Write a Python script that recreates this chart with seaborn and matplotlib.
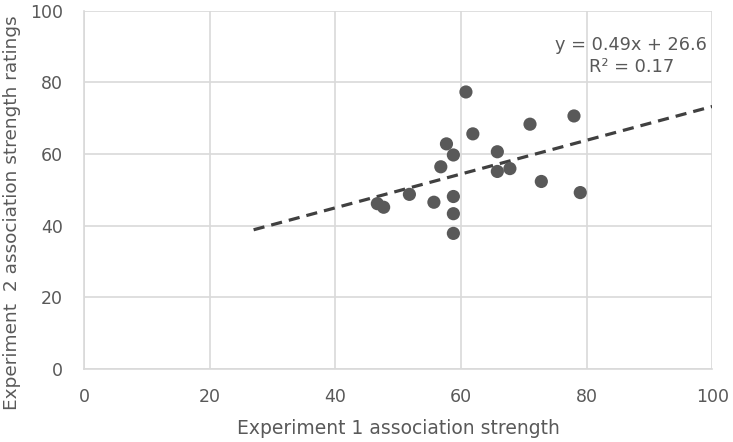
import numpy as np
import pandas as pd
import seaborn as sns
import matplotlib.pyplot as plt

# values
exp1_strength = [60.8, 61.9, 57.7, 58.8, 56.8, 65.8, 65.8, 67.8, 71.0, 78.0,
                 72.8, 79.0, 51.8, 55.7, 58.8, 58.8, 58.8, 46.7, 47.7]
exp2_ratings = [77.3, 65.6, 62.8, 59.7, 56.4, 60.6, 55.1, 55.9, 68.3, 70.6,
                52.3, 49.2, 48.7, 46.5, 48.1, 43.3, 37.8, 46.1, 45.1]
trend_range = [27, 100]
eq_text = "y = 0.49x + 26.6\nR² = 0.17"
ticks = [0, 20, 40, 60, 80, 100]

grey_txt = "#595959"
grid_col = "#d9d9d9"

sns.set_theme(style="white")
plt.rcParams['font.family'] = ['DejaVu Sans']

df = pd.DataFrame({"x": exp1_strength, "y": exp2_ratings})

fig = plt.figure(figsize=(7.33, 4.42), dpi=100)
ax = fig.add_axes([0.1146, 0.1658, 0.857, 0.81])

# trend line fitted to the points
slope, icpt = np.polyfit(df["x"], df["y"], 1)
tx = np.array(trend_range, dtype=float)
trend = pd.DataFrame({"x": tx, "y": slope * tx + icpt})
sns.lineplot(data=trend, x="x", y="y", ax=ax, color="#404040", lw=2.3,
             dashes=False, linestyle=(0, (3.5, 2.2)), zorder=2)

sns.scatterplot(data=df, x="x", y="y", ax=ax, color=grey_txt, s=90,
                edgecolor="none", zorder=3)

ax.set_xlim(0, 100)
ax.set_ylim(0, 100)
ax.set_xticks(ticks)
ax.set_yticks(ticks)
ax.grid(True, color=grid_col, lw=1.2)
ax.set_axisbelow(True)
for s in ["top", "right"]:
    ax.spines[s].set_visible(False)
for s in ["left", "bottom"]:
    ax.spines[s].set_color(grid_col)
    ax.spines[s].set_linewidth(1.2)
ax.tick_params(axis="both", length=0, labelsize=12.5, labelcolor=grey_txt)
ax.tick_params(axis="x", pad=14)
ax.tick_params(axis="y", pad=15)

ax.set_xlabel("Experiment 1 association strength", fontsize=13.5,
              color=grey_txt, labelpad=9)
ax.set_ylabel("Experiment  2 association strength ratings", fontsize=13.3,
              color=grey_txt)
# the y title sits a bit below the middle of the axis
ax.yaxis.set_label_coords(-0.1, 0.435)

ax.text(87.1, 87.3, eq_text, ha="center", va="center", fontsize=12.8,
        color=grey_txt, linespacing=1.3)

fig.savefig("out.png", dpi=100)
